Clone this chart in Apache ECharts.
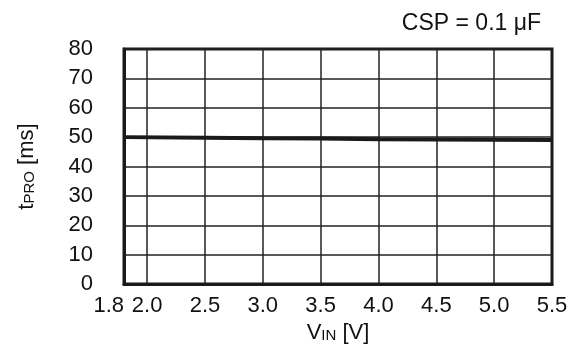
<!DOCTYPE html>
<html>
<head>
<meta charset="utf-8">
<script src="https://cdn.jsdelivr.net/npm/echarts@6/dist/echarts.min.js"></script>
<style>
  html, body { margin: 0; padding: 0; background: #fff; }
  #chart { width: 577px; height: 358px; }
</style>
</head>
<body>
<div id="chart"></div>
<script>
// 数据
const vin = [1.8, 2.5, 3.0, 3.5, 4.0, 4.5, 5.0, 5.5];
const tpro = [50.0, 49.8, 49.6, 49.5, 49.3, 49.2, 49.1, 49.0];
const xLabels = [1.8, 2.0, 2.5, 3.0, 3.5, 4.0, 4.5, 5.0, 5.5];
const xGrid = [2.0, 2.5, 3.0, 3.5, 4.0, 4.5, 5.0];

const font = "'Liberation Sans', Arial, sans-serif";
const gridColor = "#222";

const chart = echarts.init(document.getElementById("chart"));

// 下标样式（V_IN, t_PRO）
const nameRich = {
  a: { fontFamily: font, fontSize: 22, color: "#111", verticalAlign: "bottom" },
  b: { fontFamily: font, fontSize: 15, color: "#111", verticalAlign: "bottom", padding: [0, 0, 1, 0] },
};

const options = {
  animation: false,
  title: {
    text: "CSP = 0.1 μF",
    right: 31,
    top: 7,
    textStyle: { fontFamily: font, fontSize: 23, fontWeight: "normal", color: "#111" },
  },
  grid: {
    left: 124,
    right: 25,
    top: 49,
    bottom: 74,
    show: true,
    borderColor: "#1a1a1a",
    borderWidth: 3,
  },
  xAxis: {
    type: "value",
    min: 1.8,
    max: 5.5,
    name: "{a|V}{b|IN}{a| [V]}",
    nameLocation: "middle",
    nameGap: 30,
    nameTextStyle: { rich: nameRich },
    axisLine: { show: true, lineStyle: { color: "#1a1a1a", width: 3 } },
    axisTick: { show: false, customValues: xGrid },
    axisLabel: {
      customValues: xLabels,
      fontFamily: font,
      fontSize: 22,
      color: "#111",
      margin: 11,
      alignMinLabel: "right",
      formatter: (val) => val.toFixed(1),
    },
    splitLine: { show: true, lineStyle: { color: gridColor, width: 1.5 } },
  },
  yAxis: {
    type: "value",
    min: 0,
    max: 80,
    interval: 10,
    name: "{a|t}{b|PRO}{a| [ms]}",
    nameLocation: "middle",
    nameGap: 86,
    nameTextStyle: { rich: nameRich },
    axisLine: { show: true, lineStyle: { color: "#1a1a1a", width: 3 } },
    axisTick: { show: false },
    axisLabel: { fontFamily: font, fontSize: 22, color: "#111", margin: 31 },
    splitLine: { show: true, lineStyle: { color: gridColor, width: 1.5 } },
  },
  series: [
    {
      type: "line",
      data: vin.map((v, i) => [v, tpro[i]]),
      showSymbol: false,
      lineStyle: { color: "#1a1a1a", width: 4 },
      z: 5,
    },
  ],
};

chart.setOption(options);
</script>
</body>
</html>
